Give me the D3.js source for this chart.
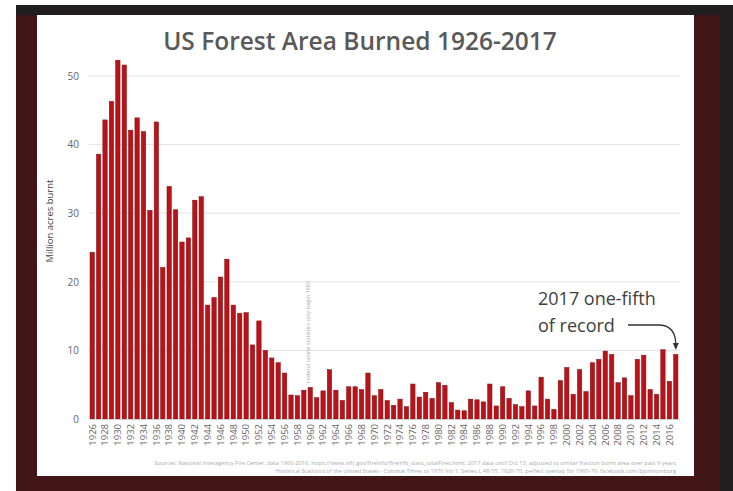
<!DOCTYPE html>
<html><head><meta charset="utf-8">
<script src="https://cdn.jsdelivr.net/npm/d3@7"></script>
<style>body{margin:0;background:#fff;} svg{display:block;}</style>
</head><body>
<svg id="c" width="733" height="491"></svg>
<script>
const years = d3.range(1926, 2018);
const acres = [
 24.3, 38.6, 43.6, 46.3, 52.3, 51.6, 42.1, 43.9, 41.9, 30.4,
 43.3, 22.1, 33.9, 30.5, 25.8, 26.4, 31.9, 32.4, 16.6, 17.7,
 20.7, 23.3, 16.6, 15.4, 15.5, 10.8, 14.3, 10.0, 8.9, 8.2,
 6.7, 3.5, 3.4, 4.2, 4.6, 3.1, 4.1, 7.2, 4.2, 2.7,
 4.7, 4.7, 4.3, 6.7, 3.4, 4.3, 2.7, 2.0, 2.9, 1.8,
 5.1, 3.2, 3.9, 3.0, 5.3, 4.9, 2.4, 1.3, 1.2, 2.9,
 2.8, 2.5, 5.1, 1.9, 4.7, 3.0, 2.1, 1.8, 4.1, 1.9,
 6.1, 2.9, 1.4, 5.6, 7.5, 3.6, 7.2, 4.0, 8.2, 8.7,
 9.9, 9.4, 5.3, 6.0, 3.4, 8.7, 9.3, 4.3, 3.6, 10.1,
 5.5, 9.4
];
const yTicks = [0, 10, 20, 30, 40, 50];
const xTickYears = d3.range(1926, 2017, 2);
const title = "US Forest Area Burned 1926-2017";
const yLabel = "Million acres burnt";
const noteLines = ["2017 one-fifth", "of record"];
const vertNote = "Federal online statistics only begin 1960";
const sources = [
 "Sources: National Interagency Fire Center, data 1960-2016, https://www.nifc.gov/fireInfo/fireInfo_stats_totalFires.html, 2017 data until Oct 13, adjusted to similar fraction burnt area over past 9 years",
 "Historical Statistics of the United States - Colonial Times to 1970 Vol 1, Series L 48-55, 1926-70, perfect overlap for 1960-70. facebook.com/bjornlomborg"
];

const svg = d3.select("#c");
// frame / background
svg.append("rect").attr("x",0).attr("y",0).attr("width",733).attr("height",491).attr("fill","#ffffff");
svg.append("rect").attr("x",16).attr("y",5).attr("width",717).attr("height",486).attr("fill","#1f1d1d");
svg.append("rect").attr("x",16).attr("y",15).attr("width",704).attr("height",476).attr("fill","#421617");
svg.append("rect").attr("x",37).attr("y",15).attr("width",657).attr("height",461).attr("fill","#ffffff");

const x = d3.scaleBand().domain(years).range([89, 679]).paddingInner(0.32).paddingOuter(0.16);
const y = d3.scaleLinear().domain([0, 50]).range([419, 76]);

// gridlines
svg.append("g").selectAll("line").data(yTicks.filter(d=>d>0)).join("line")
  .attr("x1", 89).attr("x2", 680)
  .attr("y1", d=>y(d)).attr("y2", d=>y(d))
  .attr("stroke", "#e3e3e3").attr("stroke-width", 1);

// y axis labels
const yAxis = d3.axisLeft(y).tickValues(yTicks).tickSize(0).tickPadding(0);
const gy = svg.append("g").attr("transform","translate(79,0)").call(yAxis);
gy.select(".domain").remove();
gy.selectAll("text").attr("font-family","Open Sans, sans-serif").attr("font-size",10).attr("fill","#666");

// bars
svg.append("g").selectAll("rect").data(years).join("rect")
  .attr("x", d=>x(d)).attr("width", x.bandwidth())
  .attr("y", (d,i)=>y(acres[i])).attr("height", (d,i)=>y(0)-y(acres[i]))
  .attr("fill", "#bb1219").attr("stroke","#7d0b0d").attr("stroke-width",0.5);

// baseline
svg.append("line").attr("x1",89).attr("x2",680).attr("y1",y(0)+0.5).attr("y2",y(0)+0.5).attr("stroke","#d0d0d0");

// x axis
const xAxis = d3.axisBottom(x).tickValues(xTickYears).tickSize(0).tickPadding(0);
const gx = svg.append("g").attr("transform",`translate(0,${y(0)+4})`).call(xAxis);
gx.select(".domain").remove();
gx.selectAll("text")
  .attr("transform","rotate(-90)")
  .attr("text-anchor","end").attr("dy","0.35em").attr("x",-1).attr("y",0)
  .attr("font-family","Open Sans, sans-serif").attr("font-size",9.5).attr("fill","#666");

// title
svg.append("text").attr("x",360).attr("y",50).attr("text-anchor","middle")
  .attr("font-family","Open Sans, sans-serif").attr("font-weight",600).attr("font-size",24.5)
  .attr("fill","#595959").text(title);

// y label
svg.append("text").attr("transform","translate(53,221) rotate(-90)").attr("text-anchor","middle")
  .attr("font-family","Open Sans, sans-serif").attr("font-size",9.5).attr("fill","#444").text(yLabel);

// vertical note
svg.append("text").attr("transform","translate(310,332) rotate(-90)").attr("text-anchor","middle")
  .attr("font-family","Open Sans, sans-serif").attr("font-size",5.5).attr("fill","#aaa").text(vertNote);

// annotation
svg.append("g").selectAll("text").data(noteLines).join("text")
  .attr("x",538).attr("y",(d,i)=>305+i*27)
  .attr("font-family","Open Sans, sans-serif").attr("font-size",18).attr("fill","#404040").text(d=>d);
const ax = x(2017)+x.bandwidth()/2;
svg.append("path")
  .attr("d", `M628,325 L660,325 Q${ax},326 ${ax},345`)
  .attr("fill","none").attr("stroke","#333").attr("stroke-width",1.3);
svg.append("path")
  .attr("d", `M${ax-3},343 L${ax},350 L${ax+3},343 Z`).attr("fill","#333");

// sources
svg.append("g").selectAll("text").data(sources).join("text")
  .attr("x",676).attr("y",(d,i)=>465+i*8).attr("text-anchor","end")
  .attr("font-family","Open Sans, sans-serif").attr("font-size",5.7).attr("fill","#aaa").text(d=>d);
</script>
</body></html>
